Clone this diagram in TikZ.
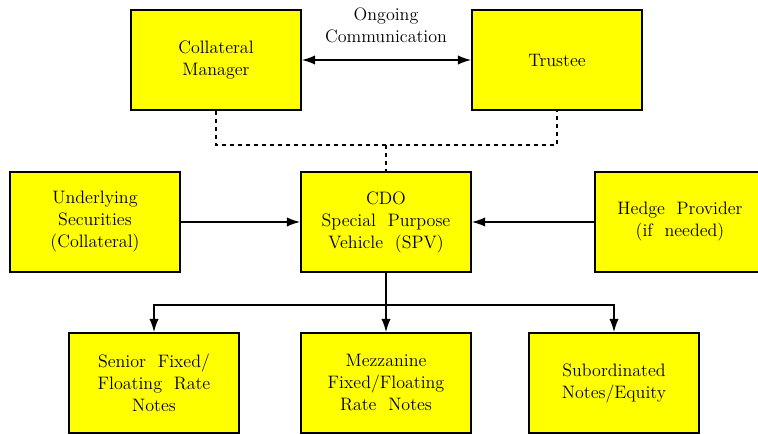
\documentclass[tikz,border=0pt]{standalone}
\usepackage{amssymb}
\usepackage{amsmath}
\usetikzlibrary{arrows.meta}
\definecolor{boxyellow}{RGB}{255,255,0}

\begin{document}
\begin{tikzpicture}[x=0.75pt,y=-0.75pt]
\useasboundingbox (0,0) rectangle (758,435);
\begin{scope}[every node/.style={rectangle,draw,line width=1.2pt,fill=boxyellow,minimum width=127.5pt,minimum height=75pt,align=center,font=\fontsize{13.5}{16.5}\selectfont}]
    \node (cm) at (216,60) {Collateral\\Manager};
    \node (tr) at (557,60) {Trustee};
    \node (us) at (95,222) {Underlying\\Securities\\(Collateral)};
    \node (spv) at (386,222) {CDO\\Special\ \ Purpose\\Vehicle\ \ (SPV)};
    \node (hp) at (680,222) {Hedge\ \ Provider\\(if\ \ needed)};
    \node (sn) at (154,383) {Senior\ \ Fixed/\\Floating\ \ Rate\\Notes};
    \node (mz) at (386,383) {Mezzanine\\Fixed/Floating\\Rate\ \ Notes};
    \node (sb) at (614,383) {Subordinated\\Notes/Equity};
\end{scope}

\node (com) at (386,25) [align=center,font=\fontsize{13.5}{16.5}\selectfont] {Ongoing\\Communication};
\coordinate (m) at (386,145);
\coordinate (s) at (386,305);

\draw[{Latex[length=10pt,width=7pt]}-{Latex[length=10pt,width=7pt]},line width=1.2pt] (cm) -- (tr);
\draw[dashed,line width=1.2pt] (cm.south) |- (m) -| (tr.south);
\draw[dashed,line width=1.2pt] (m) -- (spv.north);
\draw[-{Latex[length=10pt,width=7pt]},line width=1.2pt] (us) -- (spv);
\draw[-{Latex[length=10pt,width=7pt]},line width=1.2pt] (hp) -- (spv);
\draw[line width=1.2pt] (spv.south) -- (s);
\draw[-{Latex[length=10pt,width=7pt]},line width=1.2pt] (s) -| (sn.north);
\draw[-{Latex[length=10pt,width=7pt]},line width=1.2pt] (s) -- (mz.north);
\draw[-{Latex[length=10pt,width=7pt]},line width=1.2pt] (s) -| (sb.north);
\end{tikzpicture}
\end{document}
